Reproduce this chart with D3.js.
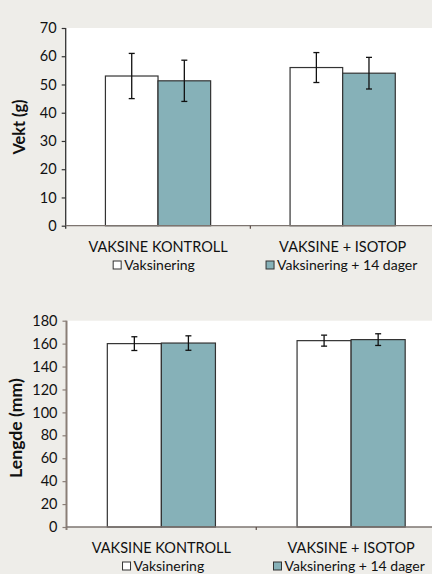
<!DOCTYPE html>
<html><head><meta charset="utf-8">
<script src="https://cdn.jsdelivr.net/npm/d3@7"></script>
<style>
html,body{margin:0;padding:0;background:#eeede9;}
svg{display:block;}
text{font-family:Lato,"Open Sans",sans-serif;fill:#111;}
</style></head>
<body>
<svg id="chart" width="432" height="574"></svg>
<script>
// ---- data ----
const categories = ["VAKSINE KONTROLL", "VAKSINE + ISOTOP"];
const seriesNames = ["Vaksinering", "Vaksinering + 14 dager"];
const seriesColors = ["#ffffff", "#86b1b8"];

const vektVaksinering = [53.0, 56.0];
const vektVaksineringErr = [8.0, 5.3];
const vektVaks14 = [51.3, 54.0];
const vektVaks14Err = [7.3, 5.6];
const vektTicks = [0, 10, 20, 30, 40, 50, 60, 70];

const lengdeVaksinering = [160.0, 162.6];
const lengdeVaksineringErr = [6.0, 4.8];
const lengdeVaks14 = [160.5, 163.5];
const lengdeVaks14Err = [6.3, 5.1];
const lengdeTicks = [0, 20, 40, 60, 80, 100, 120, 140, 160, 180];

const svg = d3.select("#chart");

function fitText(t, base, target) {
  t.attr("font-size", base);
  const w = t.node().getComputedTextLength();
  if (w > 0) t.attr("font-size", base * target / w);
}

function drawChart(cfg) {
  const g = svg.append("g");
  const x = d3.scaleBand().domain(categories).range([cfg.left, cfg.right]).paddingInner(0).paddingOuter(0);
  const x1 = d3.scaleBand().domain(seriesNames).range([0, x.bandwidth()]).paddingInner(0).paddingOuter(0.755);
  const y = d3.scaleLinear().domain([0, cfg.max]).range([cfg.bottom, cfg.top]);

  // plot background
  g.append("rect").attr("x", cfg.left).attr("y", cfg.top)
    .attr("width", 432 - cfg.left).attr("height", cfg.bottom - cfg.top).attr("fill", "#fff");

  const series = [
    {name: seriesNames[0], vals: cfg.s1, errs: cfg.e1, color: seriesColors[0]},
    {name: seriesNames[1], vals: cfg.s2, errs: cfg.e2, color: seriesColors[1]}
  ];

  // bars
  series.forEach(s => {
    categories.forEach((c, i) => {
      g.append("rect")
        .attr("x", x(c) + x1(s.name))
        .attr("y", y(s.vals[i]))
        .attr("width", x1.bandwidth())
        .attr("height", y(0) - y(s.vals[i]))
        .attr("fill", s.color)
        .attr("stroke", "#333").attr("stroke-width", 1.2);
    });
  });
  // error bars
  series.forEach(s => {
    categories.forEach((c, i) => {
      const cx = x(c) + x1(s.name) + x1.bandwidth() / 2;
      const hi = y(s.vals[i] + s.errs[i]), lo = y(s.vals[i] - s.errs[i]);
      const eg = g.append("g").attr("stroke", "#111").attr("stroke-width", 1.3);
      eg.append("line").attr("x1", cx).attr("x2", cx).attr("y1", hi).attr("y2", lo);
      eg.append("line").attr("x1", cx - 3).attr("x2", cx + 3).attr("y1", hi).attr("y2", hi);
      eg.append("line").attr("x1", cx - 3).attr("x2", cx + 3).attr("y1", lo).attr("y2", lo);
    });
  });

  // y axis
  const ya = g.append("g").attr("transform", `translate(${cfg.left},0)`)
    .call(d3.axisLeft(y).tickValues(cfg.ticks).tickSize(4).tickPadding(5).tickFormat(d3.format("d")));
  ya.select(".domain").remove();
  ya.selectAll(".tick line").attr("stroke", cfg.yAxisColor).attr("stroke-width", 1.2);
  ya.selectAll(".tick text").attr("font-family", "Lato, sans-serif").attr("font-size", cfg.tickSize)
    .attr("fill", "#111");
  g.append("line").attr("x1", cfg.left).attr("x2", cfg.left).attr("y1", cfg.top).attr("y2", cfg.bottom + 3)
    .attr("stroke", cfg.yAxisColor).attr("stroke-width", cfg.yAxisWidth);

  // x axis
  g.append("line").attr("x1", cfg.left).attr("x2", 432).attr("y1", cfg.bottom).attr("y2", cfg.bottom)
    .attr("stroke", "#7d7570").attr("stroke-width", 1.3);
  g.append("line").attr("x1", x(categories[1])).attr("x2", x(categories[1]))
    .attr("y1", cfg.bottom).attr("y2", cfg.bottom + 3).attr("stroke", "#5a4a44").attr("stroke-width", 1.2);

  // category labels
  categories.forEach(c => {
    g.append("text").attr("x", x(c) + x.bandwidth() / 2).attr("y", cfg.catY)
      .attr("text-anchor", "middle").attr("font-size", 14.5).text(c);
  });

  // legend
  series.forEach((s, i) => {
    const c = categories[i];
    const lg = g.append("g");
    const t = lg.append("text").attr("font-size", 14).attr("y", cfg.legY).text(s.name);
    const tw = t.node().getComputedTextLength();
    const sq = 8, gap = 3;
    const total = sq + gap + tw;
    const x0 = x(c) + x.bandwidth() / 2 - total / 2 + cfg.legShift[i];
    lg.append("rect").attr("x", x0).attr("y", cfg.legY - 9).attr("width", sq).attr("height", sq)
      .attr("fill", s.color).attr("stroke", "#333").attr("stroke-width", 1);
    t.attr("x", x0 + sq + gap);
  });

  // y title
  const tt = g.append("text").attr("transform", `translate(${cfg.titleX},${cfg.titleY}) rotate(-90)`)
    .attr("text-anchor", "middle").attr("font-weight", "bold").text(cfg.title);
  fitText(tt, 15, cfg.titleLen);
}

drawChart({
  left: 65.7, right: 435, top: 28, bottom: 225.7, max: 70, ticks: vektTicks,
  s1: vektVaksinering, e1: vektVaksineringErr, s2: vektVaks14, e2: vektVaks14Err,
  yAxisColor: "#333", yAxisWidth: 1.3, tickSize: 14.5,
  catY: 252, legY: 270, legShift: [-4, -1],
  title: "Vekt (g)", titleX: 25, titleY: 127, titleLen: 55
});

drawChart({
  left: 66.5, right: 446, top: 320.7, bottom: 527, max: 180, ticks: lengdeTicks,
  s1: lengdeVaksinering, e1: lengdeVaksineringErr, s2: lengdeVaks14, e2: lengdeVaks14Err,
  yAxisColor: "#8a7e77", yAxisWidth: 2, tickSize: 14.5,
  catY: 553, legY: 571, legShift: [2, -2],
  title: "Lengde (mm)", titleX: 22, titleY: 428, titleLen: 100
});
</script>
</body></html>
